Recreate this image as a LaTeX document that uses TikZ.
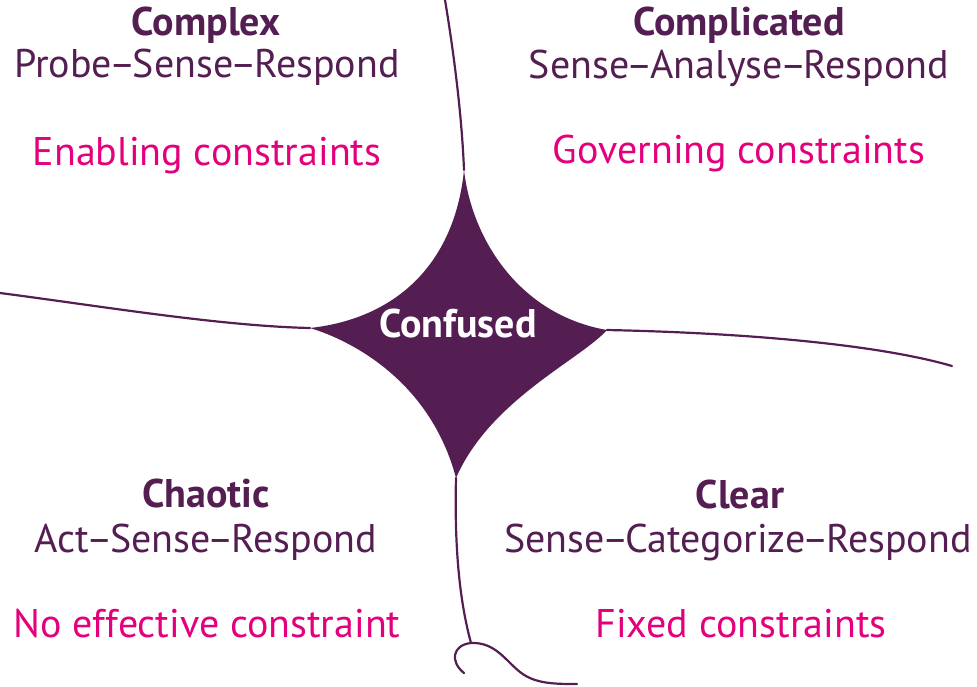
\documentclass[tikz,border=0pt]{standalone}
\usepackage{fontspec}
\setmainfont{PT Sans}
\definecolor{cynpurple}{RGB}{84,30,82}
\definecolor{cynmagenta}{RGB}{228,0,124}
\newcommand{\cyndash}{\kern-0.07em–\kern-0.07em}
\begin{document}
\begin{tikzpicture}[x=1pt,y=-1pt,
  edge/.style={draw=cynpurple,line width=2.2pt,line cap=round},
  ttl/.style={anchor=base,inner sep=0pt,font=\fontsize{40}{40}\selectfont\bfseries,text=cynpurple},
  sub/.style={anchor=base,inner sep=0pt,font=\fontsize{40}{40}\selectfont,text=cynpurple},
  cons/.style={anchor=base,inner sep=0pt,font=\fontsize{40}{40}\selectfont,text=cynmagenta}]
\useasboundingbox (0,0) rectangle (977,686);
% star tips
\coordinate (T) at (464,170);
\coordinate (L) at (310,328);
\coordinate (R) at (607,330);
\coordinate (B) at (456,478);
% free ends
\coordinate (Tend) at (445,0);
\coordinate (Lend) at (0,293);
\coordinate (Rend) at (952,366);
\coordinate (Bj) at (471,643);
\coordinate (Hl) at (464,673);
\coordinate (Hr) at (577,684);
% lines
\draw[edge] (Tend) .. controls (455,60) and (462,120) .. (T);
\draw[edge] (Lend) .. controls (100,306) and (220,326) .. (L);
\draw[edge] (R) .. controls (750,333) and (880,345) .. (Rend);
\draw[edge] (B) .. controls (454,560) and (462,610) .. (Bj);
\draw[edge] (Hl) .. controls (450,662) and (452,645) .. (Bj)
  .. controls (495,642) and (505,660) .. (520,672)
  .. controls (535,684) and (555,684) .. (Hr);
% star
\fill[cynpurple] (T) .. controls (472,240) and (520,315) .. (R)
  .. controls (580,360) and (490,400) .. (B)
  .. controls (430,380) and (350,340) .. (L)
  .. controls (400,318) and (455,260) .. (T) -- cycle;
\node[ttl,text=white] (confused) at (458,337) {Confused};
% quadrants
\node[ttl] (complex) at (206,35) {Complex};
\node[sub] (complexm) at (207,77) {Probe\cyndash Sense\cyndash Respond};
\node[cons] (complexc) at (207,165) {Enabling constraints};
\node[ttl] (complicated) at (739,35) {Complicated};
\node[sub] (complicatedm) at (739,78) {Sense\cyndash Analyse\cyndash Respond};
\node[cons] (complicatedc) at (739,163) {Governing constraints};
\node[ttl] (chaotic) at (206,507) {Chaotic};
\node[sub] (chaoticm) at (206,552) {Act\cyndash Sense\cyndash Respond};
\node[cons] (chaoticc) at (207,637) {No effective constraint};
\node[ttl] (clear) at (740,508) {Clear};
\node[sub] (clearm) at (738,552) {Sense\cyndash Categorize\cyndash Respond};
\node[cons] (clearc) at (741,637) {Fixed constraints};
\end{tikzpicture}
\end{document}
